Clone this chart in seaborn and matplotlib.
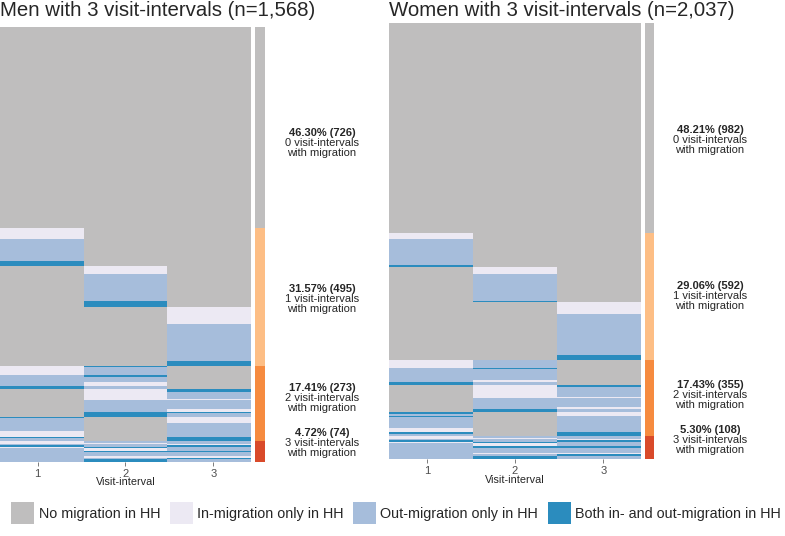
import numpy as np
import seaborn as sns
import matplotlib
matplotlib.use("Agg")
import matplotlib.pyplot as plt
from matplotlib.colors import ListedColormap
from matplotlib.patches import Patch

# state codes per visit-interval: 0 none, 1 in only, 2 out only, 3 both
state_names = ["No migration in HH", "In-migration only in HH",
               "Out-migration only in HH", "Both in- and out-migration in HH"]
state_colors = ["#BFBEBE", "#ECE9F3", "#A6BDDB", "#2B8CBE"]
interval_labels = ["1", "2", "3"]

group_names = ["0 visit-intervals\nwith migration", "1 visit-intervals\nwith migration",
               "2 visit-intervals\nwith migration", "3 visit-intervals\nwith migration"]
group_colors = ["#BFBEBE", "#FDBE85", "#F68B3F", "#D94A2A"]

# sequences top to bottom (pattern over the 3 intervals, number of people)
men_patterns = ["000",
                "100", "200", "300", "010", "020", "030", "001", "002", "003",
                "130", "120", "230", "220", "210", "320",
                "013", "012", "011", "022", "021", "033", "032",
                "301", "201", "302", "202", "102", "303", "203",
                "122", "112", "221", "323", "132", "212", "233", "222", "211", "223", "232"]
men_counts = [726,
              40, 79, 17, 29, 97, 22, 61, 132, 18,
              5, 30, 5, 21, 12, 12,
              9, 27, 5, 30, 10, 5, 13,
              5, 17, 2, 30, 20, 5, 10,
              6, 4, 5, 6, 5, 8, 6, 14, 5, 6, 9]

women_patterns = ["000",
                  "100", "200", "300", "010", "020", "030", "001", "002", "003",
                  "120", "130", "230", "220", "210", "320",
                  "013", "012", "011", "022", "021", "032",
                  "301", "201", "302", "202", "102", "303", "203",
                  "122", "112", "221", "323", "132", "212", "233", "222", "211", "223", "232"]
women_counts = [982,
                27, 122, 8, 34, 123, 9, 55, 192, 22,
                36, 3, 2, 51, 9, 16,
                11, 44, 5, 42, 11, 15,
                6, 10, 6, 53, 19, 5, 11,
                8, 6, 7, 6, 7, 12, 10, 22, 8, 9, 13]

sns.set_style("white")
plt.rcParams['font.family'] = ['Liberation Sans', 'DejaVu Sans']

fig = plt.figure(figsize=(7.85, 5.36), dpi=100)
W, H = 785, 536


def px_axes(x0, y0, x1, y1):
    return fig.add_axes([x0 / W, 1 - y1 / H, (x1 - x0) / W, (y1 - y0) / H])


def draw_panel(patterns, counts, title, box, side_box, text_x, label_frac):
    mat = np.repeat(np.array([[int(c) for c in p] for p in patterns]), counts, axis=0)
    n = mat.shape[0]

    ax = px_axes(*box)
    sns.heatmap(mat, cmap=ListedColormap(state_colors), vmin=-0.5, vmax=3.5,
                cbar=False, xticklabels=False, yticklabels=False, ax=ax,
                rasterized=True)
    for s in ax.spines.values():
        s.set_visible(False)
    ax.set_xticks([0.45, 1.5, 2.55])
    ax.set_xticklabels(interval_labels)
    ax.tick_params(axis='x', bottom=True, length=3, width=0.6, color='#666666',
                   labelcolor='#4D4D4D', labelsize=8, pad=2)
    ax.set_xlabel("Visit-interval", fontsize=7.8, labelpad=-1)

    # number of intervals with migration per person
    n_mig = (mat > 0).sum(axis=1)
    group_counts = [int((n_mig == k).sum()) for k in range(4)]

    sax = px_axes(*side_box)
    bottom = 0
    for k in range(4):
        sax.bar(0, group_counts[k], bottom=bottom, width=1, color=group_colors[k],
                linewidth=0)
        bottom += group_counts[k]
    sax.set_xlim(-0.5, 0.5)
    sax.set_ylim(n, 0)
    sax.axis('off')

    sw = side_box[2] - side_box[0]
    for k in range(4):
        xa = (text_x - side_box[0]) / sw
        ya = 1 - label_frac[k]
        pct = 100 * group_counts[k] / n
        sax.annotate(f"{pct:.2f}% ({group_counts[k]})", xy=(xa, ya),
                     xycoords='axes fraction', xytext=(0, 7.2),
                     textcoords='offset points', ha='center', va='center',
                     fontsize=8, fontweight='bold', annotation_clip=False)
        sax.annotate(group_names[k], xy=(xa, ya), xycoords='axes fraction',
                     xytext=(0, -3.6), textcoords='offset points', ha='center',
                     va='center', fontsize=8, linespacing=1.0,
                     annotation_clip=False)

    fig.text(box[0] / W, 1 - 11 / H, title, ha='left', va='center', fontsize=14.7)


label_frac = [0.267, 0.625, 0.853, 0.956]

draw_panel(men_patterns, men_counts, "Men with 3 visit-intervals (n=1,568)",
           (0, 27, 251, 461.7), (255, 27, 265, 461.7), 322, label_frac)
draw_panel(women_patterns, women_counts, "Women with 3 visit-intervals (n=2,037)",
           (389, 23.3, 641, 459), (645, 23.3, 654, 459), 710, label_frac)

handles = [Patch(facecolor=c, edgecolor='none') for c in state_colors]
fig.legend(handles, state_names, loc='center', bbox_to_anchor=(396 / W, 1 - 513 / H),
           ncol=4, frameon=False, fontsize=10.4, handlelength=1.6, handleheight=2.0,
           handletextpad=0.3, columnspacing=0.65, borderaxespad=0, borderpad=0)

fig.savefig("out.png", dpi=100)
